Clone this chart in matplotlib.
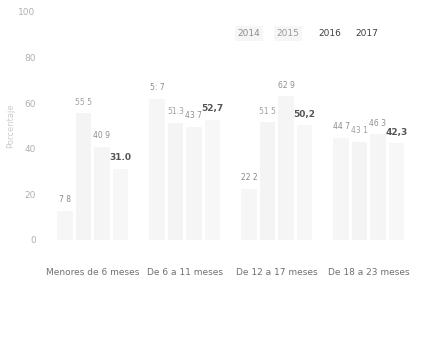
import matplotlib
matplotlib.use("Agg")
import matplotlib.pyplot as plt
import numpy as np

categories = ["Menores de 6 meses", "De 6 a 11 meses", "De 12 a 17 meses", "De 18 a 23 meses"]
years = ["2014", "2015", "2016", "2017"]
v2014 = [12.8, 61.7, 22.2, 44.7]
v2015 = [55.5, 51.3, 51.5, 43.1]
v2016 = [40.9, 49.7, 62.9, 46.3]
v2017 = [31.0, 52.7, 50.2, 42.3]
labels2014 = ["7 8", "5: 7", "22 2", "44 7"]
labels2015 = ["55 5", "51.3", "51 5", "43 1"]
labels2016 = ["40 9", "43 7", "62 9", "46 3"]
labels2017 = ["31.0", "52,7", "50,2", "42,3"]
yticks = [0, 20, 40, 60, 80, 100]
ytick_labels = ["0", "20", "40", "60", "80", "100"]

series = [v2014, v2015, v2016, v2017]
series_labels = [labels2014, labels2015, labels2016, labels2017]
bar_colors = ["#f6f6f6", "#f4f4f4", "#f5f5f5", "#f7f7f7"]
label_colors = ["#8a8a8a", "#a0a0a0", "#8f8f8f", "#555555"]
label_weights = ["normal", "normal", "normal", "bold"]
label_sizes = [5.5, 5.5, 5.5, 6.5]
legend_colors = ["#8c8c8c", "#9a9a9a", "#404040", "#404040"]

fig = plt.figure(figsize=(4.25, 3.38), dpi=100)
ax = fig.add_axes([0.11, 0.29, 0.866, 0.675])

x = np.arange(len(categories))
w = 0.2
for i, (vals, labs) in enumerate(zip(series, series_labels)):
    xs = x + (i - 1.5) * w
    ax.bar(xs, vals, width=w * 0.85, color=bar_colors[i], edgecolor="none")
    for xi, v, t in zip(xs, vals, labs):
        ax.text(xi, v + 3, t, ha="center", va="bottom", fontsize=label_sizes[i],
                color=label_colors[i], fontweight=label_weights[i])

ax.set_xlim(-0.5, 3.5)
ax.set_ylim(0, 100)
ax.set_yticks(yticks)
ax.set_yticklabels(ytick_labels, color="#b0b0b0", fontsize=6.5)
ax.set_xticks(x)
ax.set_xticklabels(categories, color="#707070", fontsize=6.5)
ax.tick_params(axis="y", length=0, pad=8)
ax.tick_params(axis="x", length=0, pad=20)
for s in ax.spines.values():
    s.set_visible(False)
ax.set_ylabel("Porcentaje", color="#cccccc", fontsize=6, labelpad=2)

legend_x = [0.55, 0.655, 0.77, 0.87]
for lx, yr, c in zip(legend_x, years, legend_colors):
    ax.text(lx, 0.905, yr, transform=ax.transAxes, ha="center", va="center",
            fontsize=6.5, color=c,
            bbox=dict(boxstyle="square,pad=0.3", facecolor="#f6f6f6", edgecolor="none")
            if yr in ("2014", "2015") else None)

fig.savefig("out.png", dpi=100)
